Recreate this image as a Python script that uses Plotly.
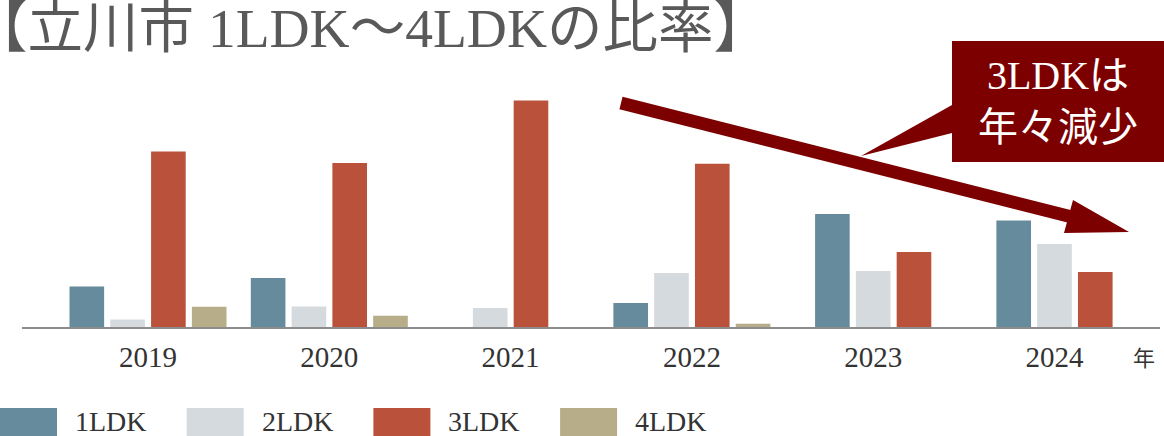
import plotly.graph_objects as go

# data (share of each layout in %)
years = ["2019", "2020", "2021", "2022", "2023", "2024"]
names = ["1LDK", "2LDK", "3LDK", "4LDK"]
ldk1 = [16.6, 20.0, None, 9.8, 46.2, 43.5]
ldk2 = [3.1, 8.4, 7.8, 22.1, 22.9, 33.9]
ldk3 = [71.8, 67.1, 92.6, 66.8, 30.7, 22.5]
ldk4 = [8.3, 4.6, None, 1.3, None, None]
colors = ["#668b9c", "#d5dade", "#ba523b", "#b8ad89"]

callout_text = "3LDKは<br>年々減少"
year_unit = "年"
title_text = "【立川市 1LDK～4LDKの比率】"

W, H = 1164, 436
ML, MR, MT, MB = 22, 4, 80, 109
SERIF = "Liberation Serif, Noto Sans CJK JP, serif"
DARK_RED = "#7d0000"

BAR_W = 0.191
PITCH = 0.225


def px(x, y):
    # pixel position -> paper coordinates
    return (x - ML) / (W - ML - MR), (H - MB - y) / (H - MT - MB)


series = [ldk1, ldk2, ldk3, ldk4]

# bars of a year are centred on the tick, whatever number of them there is
offsets = [[0] * len(years) for _ in series]
for i in range(len(years)):
    present = [j for j, s in enumerate(series) if s[i] is not None]
    n = len(present)
    for k, j in enumerate(present):
        offsets[j][i] = (k - (n - 1) / 2) * PITCH - BAR_W / 2

fig = go.Figure()
for j, s in enumerate(series):
    fig.add_trace(go.Bar(
        x=years, y=s, name=names[j],
        width=BAR_W, offset=offsets[j],
        marker=dict(color=colors[j], line=dict(width=0)),
        showlegend=False,
    ))

shapes = []
annotations = []

# big trend arrow
x0, y0 = px(621, 103)
x1, y1 = px(1072, 217)
shapes.append(dict(type="line", xref="paper", yref="paper", x0=x0, y0=y0, x1=x1, y1=y1,
                   line=dict(color=DARK_RED, width=13)))
tip = px(1129, 232)
c1 = px(1073, 200)
c2 = px(1064, 233)
shapes.append(dict(type="path", xref="paper", yref="paper",
                   path=f"M{tip[0]},{tip[1]} L{c1[0]},{c1[1]} L{c2[0]},{c2[1]} Z",
                   fillcolor=DARK_RED, line=dict(width=0)))

# callout box with its tail
pts = [px(952, 41), px(1166, 41), px(1166, 162), px(952, 162), px(952, 133),
       px(861, 156), px(952, 105)]
path = "M" + " L".join(f"{a},{b}" for a, b in pts) + " Z"
shapes.append(dict(type="path", xref="paper", yref="paper", path=path,
                   fillcolor=DARK_RED, line=dict(width=0)))
cx, cy = px(1058, 102)
annotations.append(dict(xref="paper", yref="paper", x=cx, y=cy, text=callout_text,
                        showarrow=False, xanchor="center", yanchor="middle",
                        font=dict(family=SERIF, size=40, color="white")))

# title
tx, ty = px(-30, 29)
annotations.append(dict(xref="paper", yref="paper", x=tx, y=ty, text=title_text,
                        showarrow=False, xanchor="left", yanchor="middle",
                        font=dict(family=SERIF, size=55.5, color="#595959")))

# unit label next to the last year
ux, uy = px(1144, 358)
annotations.append(dict(xref="paper", yref="paper", x=ux, y=uy, text=year_unit,
                        showarrow=False, xanchor="center", yanchor="middle",
                        font=dict(family=SERIF, size=22, color="#333333")))

# hand made legend with large swatches
for j, nm in enumerate(names):
    left = j * 186.7
    a0 = px(left, 408)
    a1 = px(left + 57, 440)
    shapes.append(dict(type="rect", xref="paper", yref="paper",
                       x0=a0[0], y0=a0[1], x1=a1[0], y1=a1[1],
                       fillcolor=colors[j], line=dict(width=0)))
    lx, ly = px(left + 73, 421)
    annotations.append(dict(xref="paper", yref="paper", x=lx, y=ly, text=nm,
                            showarrow=False, xanchor="left", yanchor="middle",
                            font=dict(family=SERIF, size=28, color="#333333")))

fig.update_layout(
    width=W, height=H,
    margin=dict(l=ML, r=MR, t=MT, b=MB),
    paper_bgcolor="white", plot_bgcolor="white",
    barmode="overlay",
    shapes=shapes, annotations=annotations,
    showlegend=False,
)
fig.update_xaxes(
    type="category", range=[-0.695, 5.582],
    showline=True, linecolor="#8c8c8c", linewidth=1.5,
    showgrid=False, ticks="", ticklabelstandoff=3,
    tickfont=dict(family=SERIF, size=29, color="#333333"),
)
fig.update_yaxes(range=[0, 101], visible=False, showgrid=False)

# page body has a default 8px margin; drop it so the figure fills the window
fig.write_html("out.html", config={"displayModeBar": False},
               post_script="document.body.style.margin='0';")
